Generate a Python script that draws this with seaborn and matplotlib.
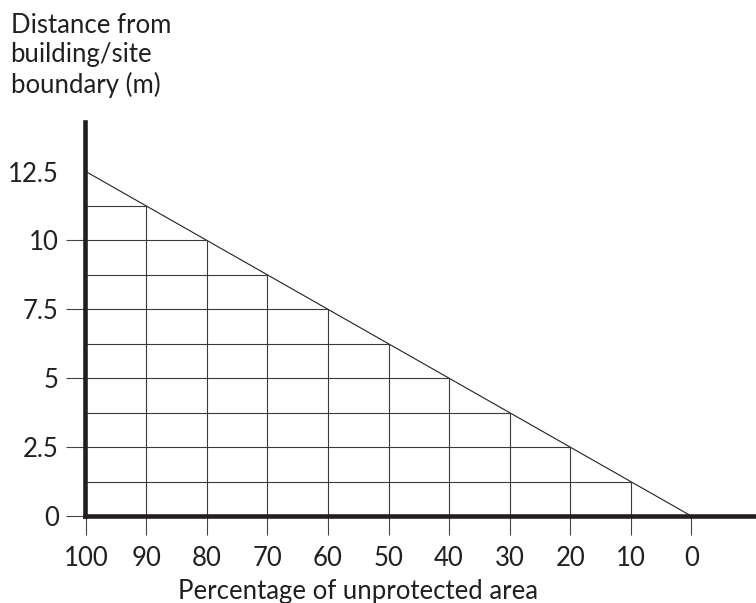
import matplotlib
matplotlib.use('Agg')
import matplotlib.pyplot as plt
import seaborn as sns
import pandas as pd

# values
x_ticks = [100, 90, 80, 70, 60, 50, 40, 30, 20, 10, 0]
y_ticks = [0, 2.5, 5, 7.5, 10, 12.5]
y_tick_labels = ['0', '2.5', '5', '7.5', '10', '12.5']

line_x = [100, 0]
line_y = [12.5, 0]

# vertical grid segments (x position, top where they meet the line)
vgrid_x = [90, 80, 70, 60, 50, 40, 30, 20, 10]
vgrid_top = [11.25, 10, 8.75, 7.5, 6.25, 5, 3.75, 2.5, 1.25]

# horizontal grid segments (height, right end where they meet the line)
hgrid_y = [1.25, 2.5, 3.75, 5, 6.25, 7.5, 8.75, 10, 11.25]
hgrid_end = [10, 20, 30, 40, 50, 60, 70, 80, 90]

sns.set_style('white')
plt.rcParams['font.family'] = ['Lato', 'DejaVu Sans']
text_col = '#231f20'

fig = plt.figure(figsize=(7.56, 6.03), dpi=100)
ax = fig.add_axes([0.112, 0.1443, 0.888, 0.6534])

df = pd.DataFrame({'pct': line_x, 'dist': line_y})
sns.lineplot(data=df, x='pct', y='dist', ax=ax, color='#231f20', linewidth=0.8)

ax.vlines(vgrid_x, 0, vgrid_top, color='#3a3a3a', linewidth=0.8)
ax.hlines(hgrid_y, 100, hgrid_end, color='#3a3a3a', linewidth=0.8)

ax.set_xlim(100.2, -10.7)
ax.set_ylim(0, 14.3)
ax.set_xticks(x_ticks)
ax.set_xticklabels([str(v) for v in x_ticks])
ax.set_yticks(y_ticks)
ax.set_yticklabels(y_tick_labels)

for side in ['top', 'right']:
    ax.spines[side].set_visible(False)
for side in ['left', 'bottom']:
    ax.spines[side].set_linewidth(3.3)
    ax.spines[side].set_color(text_col)

ax.tick_params(axis='both', direction='out', length=13.5, width=0.8,
               color='#444444', labelsize=18.5, labelcolor=text_col,
               bottom=True, left=True)
ax.tick_params(axis='x', pad=8)
ax.tick_params(axis='y', pad=5)
# the 12.5 label has no tick mark in the reference
ax.yaxis.get_major_ticks()[-1].tick1line.set_visible(False)
ax.set_xlabel('')
ax.set_ylabel('')

fig.text(0.014, 0.979, 'Distance from\nbuilding/site\nboundary (m)',
         ha='left', va='top', fontsize=18.5, color=text_col, linespacing=1.22)
fig.text(0.474, 0.040, 'Percentage of unprotected area',
         ha='center', va='top', fontsize=18.5, color=text_col)

fig.savefig('out.png', dpi=100)
